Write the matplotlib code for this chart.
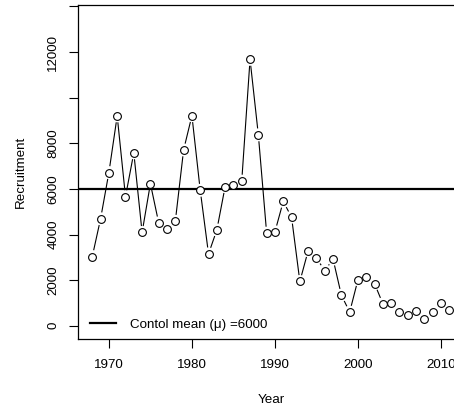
import numpy as np
import matplotlib
matplotlib.use("Agg")
import matplotlib.pyplot as plt
from matplotlib.lines import Line2D

plt.rcParams['font.family'] = ['Liberation Sans', 'DejaVu Sans']

# annual recruitment series
years = np.arange(1968, 2012)
recruitment = [3035, 4690, 6715, 9200, 5660, 7580, 4090, 6230, 4510, 4260,
               4580, 7710, 9210, 5940, 3150, 4200, 6100, 6160, 6340, 11680,
               8370, 4060, 4120, 5450, 4760, 1940, 3290, 2960, 2420, 2920,
               1340, 600, 2020, 2120, 1840, 960, 980, 600, 480, 660,
               310, 610, 1010, 670]
control_mean = 6000

y_ticks = [0, 2000, 4000, 6000, 8000, 10000, 12000, 14000]
y_ticklabels = ['0', '2000', '4000', '6000', '8000', '', '12000', '']
x_ticks = [1970, 1980, 1990, 2000, 2010]

W, H = 454, 409
fig = plt.figure(figsize=(W / 100, H / 100), dpi=100)
# plot region runs past the right edge of the canvas
left, right, top, bottom = 78, 463.6, 5.3, 338.5
ax = fig.add_axes([left / W, (H - bottom) / H, (right - left) / W, (bottom - top) / H])
ax.set_xlim(1966.28, 2012.72)
ax.set_ylim(-560, 14050)

fs = 9.6
ax.set_xticks(x_ticks)
ax.set_xticklabels([str(t) for t in x_ticks], fontsize=fs)
ax.set_yticks(y_ticks)
ax.set_yticklabels(y_ticklabels, fontsize=fs, rotation=90, va='center')
ax.tick_params(direction='out', length=6.5, width=0.8, colors='black')
ax.tick_params(axis='x', pad=8.5)
ax.tick_params(axis='y', pad=7)
for s in ax.spines.values():
    s.set_linewidth(0.9)

ax.set_xlabel('Year', fontsize=fs, labelpad=16)
ax.set_ylabel('Recruitment', fontsize=fs, labelpad=15)

mean_line = ax.axhline(control_mean, color='black', lw=1.6, zorder=2)

# type="b" style: connecting segments stop short of each point
gap = 7.0
to_disp = ax.transData
to_data = ax.transData.inverted()
pts = to_disp.transform(np.column_stack([years, recruitment]))
for p1, p2 in zip(pts[:-1], pts[1:]):
    d = p2 - p1
    dist = np.hypot(*d)
    if dist <= 2 * gap:
        continue
    u = d / dist
    a = to_data.transform(p1 + u * gap)
    b = to_data.transform(p2 - u * gap)
    ax.plot([a[0], b[0]], [a[1], b[1]], color='black', lw=0.8, zorder=3)

ax.plot(years, recruitment, 'o', ms=5.6, mfc='white', mec='black', mew=0.8, zorder=4)

handle = Line2D([], [], color='black', lw=1.6)
ax.legend([handle], ['Contol mean (\u03bc) =6000'], loc='center left',
          bbox_to_anchor=(0.031, 0.042), frameon=False, fontsize=fs,
          handlelength=1.95, handletextpad=1.05, borderpad=0, borderaxespad=0)

fig.savefig('out.png', dpi=100)
